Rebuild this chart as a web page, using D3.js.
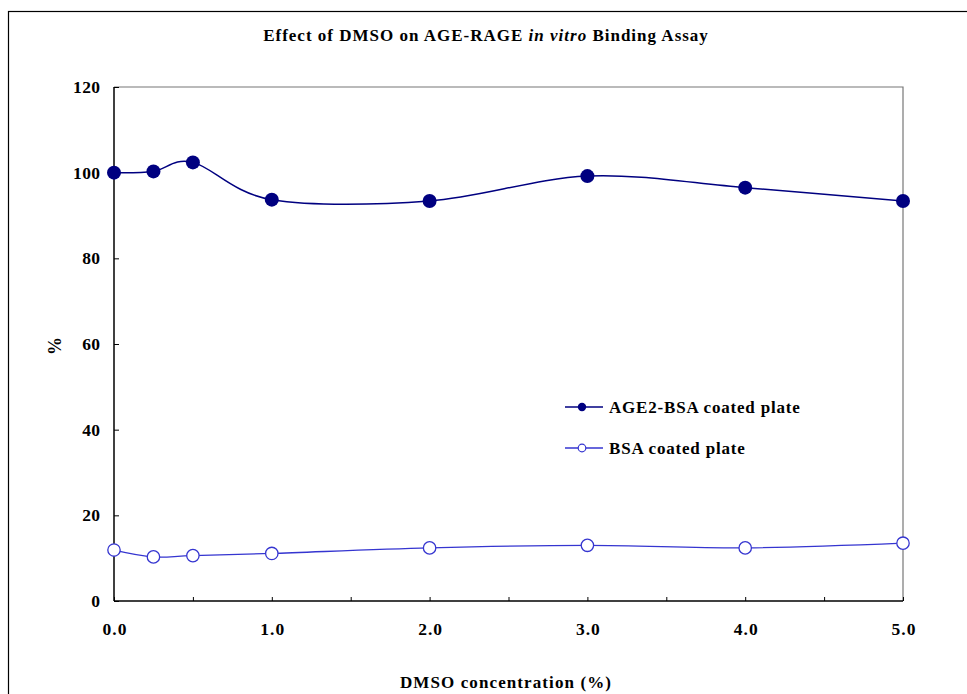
<!DOCTYPE html>
<html><head><meta charset="utf-8">
<script src="https://cdn.jsdelivr.net/npm/d3@7"></script>
<style>body{margin:0;background:#fff}svg{display:block}text{font-family:"Liberation Serif","Times New Roman",serif;font-weight:bold}</style>
</head><body><svg id="c" width="967" height="694"></svg>
<script>
const concentrations = [0, 0.25, 0.5, 1, 2, 3, 4, 5];
const age2Values = [100, 100.3, 102.4, 93.7, 93.4, 99.2, 96.5, 93.4];
const bsaValues = [11.9, 10.3, 10.6, 11.1, 12.4, 13.0, 12.4, 13.5];
const xTickLabels = [0, 1, 2, 3, 4, 5];
const yTickLabels = [0, 20, 40, 60, 80, 100, 120];
const seriesNames = ["AGE2-BSA coated plate", "BSA coated plate"];

const svg = d3.select("#c");
const L = 114, R = 903, T = 87, B = 601;
const x = d3.scaleLinear().domain([0, 5]).range([L, R]);
const y = d3.scaleLinear().domain([0, 120]).range([B, T]);

svg.append("rect").attr("x", 8.5).attr("y", 11.5).attr("width", 1000).attr("height", 1000)
  .attr("fill", "none").attr("stroke", "#000").attr("stroke-width", 1.2);

svg.append("text").attr("x", 486).attr("y", 41).attr("text-anchor", "middle").attr("font-size", 17)
  .attr("letter-spacing", 1)
  .call(t => {
    t.append("tspan").text("Effect of DMSO on AGE-RAGE ");
    t.append("tspan").attr("font-style", "italic").text("in vitro");
    t.append("tspan").text("  Binding Assay");
  });

// plot frame
svg.append("path").attr("d", `M${L},${T}H${R}V${B}`).attr("fill", "none").attr("stroke", "#777").attr("stroke-width", 1.2);

// x axis
const xAxis = d3.axisBottom(x).tickValues(d3.range(0, 5.01, 0.5)).tickSize(-4).tickFormat("");
const gx = svg.append("g").attr("transform", `translate(0,${B})`).call(xAxis);
gx.select(".domain").remove();
gx.selectAll("line").attr("stroke", "#000");
svg.append("line").attr("x1", L).attr("x2", R).attr("y1", B).attr("y2", B).attr("stroke", "#000").attr("stroke-width", 1.5);
svg.append("g").selectAll("text").data(xTickLabels).join("text")
  .attr("x", d => x(d) + 1).attr("y", 635).attr("text-anchor", "middle").attr("font-size", 17.5)
  .attr("letter-spacing", 1)
  .text(d => d.toFixed(1));

// y axis
const yAxis = d3.axisLeft(y).tickValues(yTickLabels).tickSizeInner(-5).tickSizeOuter(0).tickFormat("");
const gy = svg.append("g").attr("transform", `translate(${L},0)`).call(yAxis);
gy.select(".domain").remove();
gy.selectAll("line").attr("stroke", "#000");
svg.append("line").attr("x1", L).attr("x2", L).attr("y1", T).attr("y2", B).attr("stroke", "#000").attr("stroke-width", 1.5);
svg.append("g").selectAll("text").data(yTickLabels).join("text")
  .attr("x", 100.5).attr("y", d => y(d) + 6).attr("text-anchor", "end").attr("font-size", 17.5)
  .attr("letter-spacing", 0.4)
  .text(d => d);

svg.append("text").attr("transform", "translate(61,346) rotate(-90)").attr("text-anchor", "middle")
  .attr("font-size", 18).text("%");
svg.append("text").attr("x", 506).attr("y", 688).attr("text-anchor", "middle").attr("font-size", 17)
  .attr("letter-spacing", 1.1)
  .text("DMSO concentration (%)");

const line = d3.line().x(d => x(d[0])).y(d => y(d[1])).curve(d3.curveCardinal.tension(0));
const age2 = concentrations.map((c, i) => [c, age2Values[i]]);
const bsa = concentrations.map((c, i) => [c, bsaValues[i]]);

svg.append("path").datum(bsa).attr("d", line).attr("fill", "none").attr("stroke", "#3535d0").attr("stroke-width", 1.3);
svg.append("path").datum(age2).attr("d", line).attr("fill", "none").attr("stroke", "#000080").attr("stroke-width", 1.5);

svg.append("g").selectAll("circle").data(bsa).join("circle")
  .attr("cx", d => x(d[0])).attr("cy", d => y(d[1])).attr("r", 6.2)
  .attr("fill", "#fff").attr("stroke", "#3535d0").attr("stroke-width", 1.3);
svg.append("g").selectAll("circle").data(age2).join("circle")
  .attr("cx", d => x(d[0])).attr("cy", d => y(d[1])).attr("r", 7)
  .attr("fill", "#000080");

// legend
const lg = svg.append("g");
const ly = [407, 448];
lg.append("line").attr("x1", 565).attr("x2", 603).attr("y1", ly[0]).attr("y2", ly[0]).attr("stroke", "#000080").attr("stroke-width", 1.5);
lg.append("circle").attr("cx", 582).attr("cy", ly[0]).attr("r", 4.2).attr("fill", "#000080");
lg.append("line").attr("x1", 565).attr("x2", 603).attr("y1", ly[1]).attr("y2", ly[1]).attr("stroke", "#3535d0").attr("stroke-width", 1.3);
lg.append("circle").attr("cx", 582).attr("cy", ly[1]).attr("r", 3.8).attr("fill", "#fff").attr("stroke", "#3535d0").attr("stroke-width", 1.2);
lg.selectAll("text").data(seriesNames).join("text")
  .attr("x", 609).attr("y", (d, i) => ly[i] + 6).attr("font-size", 17).attr("letter-spacing", 0.8).text(d => d);
</script></body></html>
